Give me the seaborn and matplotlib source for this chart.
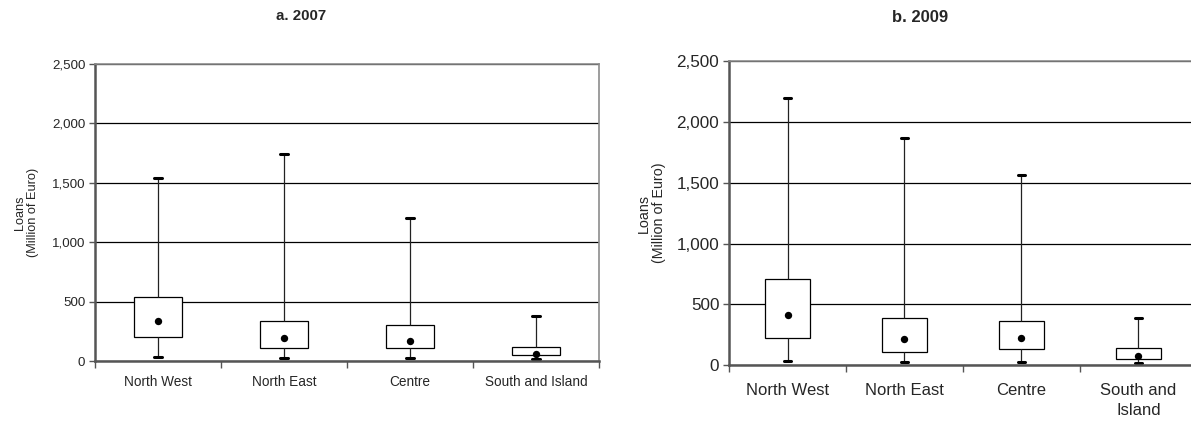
import matplotlib
matplotlib.use("Agg")
import matplotlib.pyplot as plt
from matplotlib.ticker import FuncFormatter, FixedLocator
import seaborn as sns
import pandas as pd

# Regions and summary statistics (million of euro)
regions = ["North West", "North East", "Centre", "South and Island"]
regions_2009 = ["North West", "North East", "Centre", "South and\nIsland"]

min_2007 = [34, 25, 25, 17]
q1_2007 = [199, 107, 107, 48]
dot_2007 = [337, 196, 168, 62]
q3_2007 = [541, 334, 306, 118]
max_2007 = [1543, 1745, 1204, 376]

min_2009 = [35, 30, 30, 19]
q1_2009 = [224, 112, 134, 52]
dot_2009 = [413, 216, 227, 77]
q3_2009 = [709, 391, 361, 145]
max_2009 = [2193, 1870, 1561, 386]

sns.set_style("white")
plt.rcParams["font.family"] = ["Liberation Sans", "DejaVu Sans"]


def build_frame(labels, mins, q1s, dots, q3s, maxs):
    # five values per region -> seaborn percentiles give back the same box
    rows = []
    for i, lab in enumerate(labels):
        for v in (mins[i], q1s[i], dots[i], q3s[i], maxs[i]):
            rows.append({"region": lab, "loans": v})
    return pd.DataFrame(rows)


def draw_panel(ax, labels, mins, q1s, dots, q3s, maxs, width, tick_fs, xtick_fs,
               lab_fs, lab_x, xpad):
    df = build_frame(labels, mins, q1s, dots, q3s, maxs)
    sns.boxplot(data=df, x="region", y="loans", order=labels, ax=ax,
                whis=(0, 100), width=width, color="white", linecolor="black",
                linewidth=0.9, fliersize=0, capwidths=0.065,
                medianprops={"visible": False},
                capprops={"linewidth": 2.2},
                whiskerprops={"linewidth": 0.9, "color": "#222222"})
    dot_df = pd.DataFrame({"region": labels, "loans": dots})
    sns.stripplot(data=dot_df, x="region", y="loans", order=labels, ax=ax,
                  jitter=False, color="black", size=5.3, zorder=5)

    ax.set_ylim(0, 2500)
    ax.set_xlim(-0.5, 3.5)
    ax.set_yticks([0, 500, 1000, 1500, 2000, 2500])
    ax.yaxis.set_major_formatter(FuncFormatter(lambda v, p: f"{int(v):,}"))
    ax.grid(axis="y", color="black", linewidth=0.9)
    ax.set_axisbelow(True)

    for side in ("top", "right"):
        ax.spines[side].set_color("#8c8c8c")
        ax.spines[side].set_linewidth(1.2)
    for side in ("left", "bottom"):
        ax.spines[side].set_color("#555555")
        ax.spines[side].set_linewidth(1.8)

    ax.xaxis.set_minor_locator(FixedLocator([-0.5, 0.5, 1.5, 2.5, 3.5]))
    ax.tick_params(axis="x", which="major", length=0, labelsize=xtick_fs, pad=xpad)
    ax.tick_params(axis="x", which="minor", length=5, width=1, color="#555555",
                   direction="out", bottom=True)
    ax.tick_params(axis="y", length=4, width=1, color="#555555", direction="out",
                   left=True, labelsize=tick_fs, pad=3)
    for t in ax.get_xticklabels():
        t.set_linespacing(1.35)
    ax.set_xlabel("")
    ax.set_ylabel("Loans\n(Million of Euro)", fontsize=lab_fs, linespacing=1.1)
    ax.yaxis.set_label_coords(lab_x, 0.5)


fig = plt.figure(figsize=(11.91, 4.22), dpi=100)
ax1 = fig.add_axes([0.0798, 0.1445, 0.4232, 0.7038])
ax2 = fig.add_axes([0.6121, 0.1344, 0.3929, 0.7211])

draw_panel(ax1, regions, min_2007, q1_2007, dot_2007, q3_2007, max_2007,
           0.38, 9.6, 9.8, 9.2, -0.112, 10)
draw_panel(ax2, regions_2009, min_2009, q1_2009, dot_2009, q3_2009, max_2009,
           0.385, 12.3, 12, 10.3, -0.135, 13)

fig.text(301.5 / 1191, 1 - 16 / 422, "a. 2007", ha="center", va="center",
         fontsize=10.8, fontweight="bold")
fig.text(920 / 1191, 1 - 18 / 422, "b. 2009", ha="center", va="center",
         fontsize=12, fontweight="bold")

fig.savefig("out.png", dpi=100)
